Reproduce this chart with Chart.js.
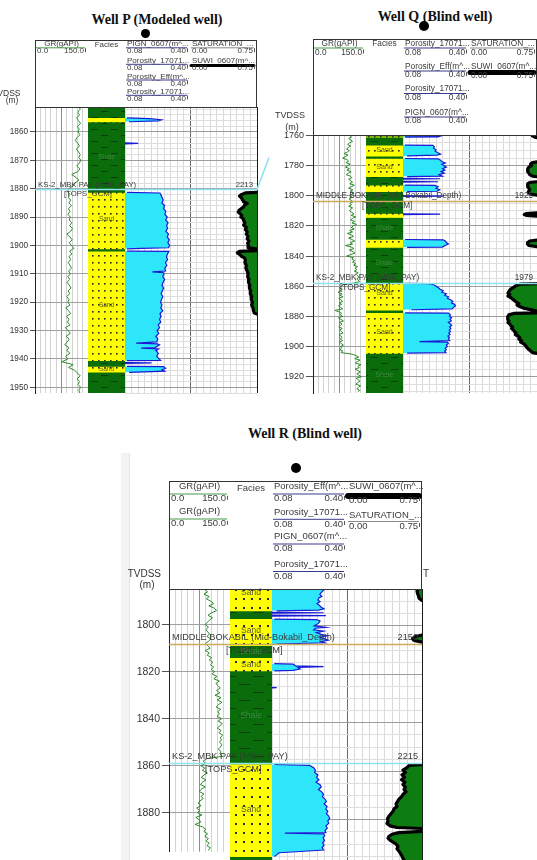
<!DOCTYPE html>
<html lang="en">
<head>
<meta charset="utf-8">
<title>Well log correlation – wells P, Q and R</title>
<script src="https://cdn.jsdelivr.net/npm/chart.js@4.4.1/dist/chart.umd.min.js"></script>
<style>
  html, body { margin:0; padding:0; background:#fff; }
  body { position:relative; width:537px; height:860px; overflow:hidden; }
  canvas { position:absolute; left:0; top:0; }
  .title { position:absolute; transform:translate(-50%,-50%); white-space:nowrap;
           font:bold 14px "Liberation Serif","Times New Roman",serif; color:#111; }
  .dot { position:absolute; border-radius:50%; background:#000; }
  .strip { position:absolute; left:121px; top:453px; width:8px; height:407px;
           background:#f3f3f3; border-right:1px solid #e2e2e2; }
</style>
</head>
<body>
<div class="strip"></div>
<div class="title" style="left:157px;top:20px">Well P (Modeled well)</div>
<div class="title" style="left:435px;top:17px">Well Q (Blind well)</div>
<div class="title" style="left:305px;top:434px">Well R (Blind well)</div>
<div class="dot" style="left:140.5px;top:28.5px;width:9px;height:9px"></div>
<div class="dot" style="left:418.5px;top:21px;width:10px;height:10px"></div>
<div class="dot" style="left:291px;top:462.5px;width:10px;height:10px"></div>
<script>
const W = 537, H = 860;
const FONT = '"Liberation Sans", Arial, Helvetica, sans-serif';
Chart.defaults.font.family = FONT;

// ================= Well P (modeled) =================
const pDepthTicks  = [1860, 1870, 1880, 1890, 1900, 1910, 1920, 1930, 1940, 1950];
const pDepthLabels = ['1860','1870','1880','1890','1900','1910','1920','1930','1940','1950'];
// gamma ray, 1 m samples starting at pGrTop
const pGrTop = 1851;
const pGr = [124,128,121,126,118,123,129,120,125,122,
             127,119,114,121,126,117,123,128,124,130,
             125,118,127,121,104,116,124,113,108,96,
             92,99,94,101,96,103,95,99,93,100,
             97,104,98,106,101,90,99,105,97,103,
             110,98,104,96,101,94,99,103,95,100,
             93,98,91,97,102,94,98,90,96,93,
             99,87,95,101,89,96,92,99,86,94,
             100,88,97,91,84,96,90,99,87,93,
             76,108,95,112,121,128,119,126,122,129,
             124,127];
// facies intervals: [top, base, facies]
const pFacies = [[1851.2,1855.0,'Shale'],[1855.0,1856.5,'Sand'],[1856.5,1881.3,'Shale'],
                 [1881.3,1901.2,'Sand'],[1901.2,1902.0,'Shale'],[1902.0,1940.6,'Sand'],
                 [1940.6,1942.6,'Shale'],[1942.6,1944.7,'Sand'],[1944.7,1952,'Shale']];
const pFaciesNames = [[1869,'Shale'],[1890.6,'Sand'],[1920.9,'Sand'],[1943.6,'Sand']];
// porosity [depth, v/v]; null breaks the curve
const pPorosity = [
 [1855.0,0.09],[1855.3,0.2],[1855.7,0.26],[1856.1,0.245],[1856.4,0.1],[1856.6,null],
 [1863.8,0.08],[1864.0,0.145],[1864.2,0.08],[1864.4,null],
 [1881.3,0.09],[1881.5,0.252],[1882,0.256],[1883,0.262],[1884,0.268],[1885,0.262],[1886,0.275],
 [1887,0.27],[1888,0.281],[1889,0.276],[1890,0.288],[1891,0.28],[1892,0.292],[1893,0.285],
 [1894,0.29],[1895,0.281],[1896,0.294],[1897,0.288],[1898,0.298],[1899,0.291],[1900,0.3],
 [1900.8,0.294],[1901.0,0.16],[1901.2,0.09],[1901.5,null],
 [1902.0,0.09],[1902.1,0.296],[1903,0.289],[1904,0.284],[1905,0.29],[1906,0.279],[1907,0.286],
 [1908,0.276],[1909,0.28],[1909.3,0.215],[1909.6,0.27],[1910,0.272],[1911,0.266],[1912,0.275],
 [1913,0.268],[1914,0.262],[1915,0.27],[1916,0.264],[1917,0.258],[1918,0.266],[1919,0.26],
 [1920,0.255],[1921,0.262],[1922,0.256],[1923,0.266],[1924,0.252],[1925,0.258],[1926,0.25],
 [1927,0.256],[1928,0.244],[1929,0.25],[1930,0.238],[1931,0.246],[1932,0.232],[1933,0.242],
 [1934,0.236],[1934.4,0.135],[1934.7,0.24],[1935,0.25],[1936,0.228],[1936.2,0.16],[1936.5,0.245],
 [1937,0.232],[1938,0.244],[1939,0.236],[1940,0.248],[1940.5,0.255],[1940.6,0.09],[1940.9,null],
 [1941.3,0.08],[1941.4,0.21],[1941.6,0.08],[1941.8,null],
 [1942.6,0.09],[1942.7,0.27],[1943.3,0.28],[1943.8,0.262],[1944.3,0.275],[1944.7,0.1]
];
// water saturation [depth, v/v]
const pSaturation = [
 [1881.3,0.75],[1881.5,0.62],[1882,0.58],[1882.6,0.555],[1883.2,0.575],[1884,0.59],[1884.6,0.6],
 [1885.2,0.64],[1885.8,0.61],[1886.4,0.6],[1887,0.575],[1887.6,0.55],[1888.2,0.54],[1888.8,0.56],
 [1889.4,0.58],[1890,0.57],[1890.6,0.595],[1891.2,0.6],[1892,0.615],[1892.8,0.6],[1893.6,0.63],
 [1894.4,0.62],[1895.2,0.64],[1896,0.63],[1896.8,0.65],[1897.6,0.64],[1898.4,0.66],[1899.2,0.645],
 [1900,0.655],[1900.8,0.65],[1901.2,0.75],[1901.8,0.75],[1902.1,0.55],[1902.6,0.53],[1903.2,0.56],
 [1903.8,0.575],[1904.4,0.61],[1905,0.62],[1906,0.615],[1907,0.63],[1908,0.625],[1909,0.64],
 [1910,0.65],[1911,0.645],[1912,0.66],[1913,0.655],[1914,0.67],[1915,0.665],[1916,0.68],
 [1917,0.675],[1918,0.69],[1919,0.685],[1920,0.7],[1921,0.69],[1922,0.705],[1923,0.71],
 [1923.8,0.72],[1924.2,0.75]
];
// formation tops: [depth, name, measured depth, kind]
const pTops = [[1880, 'KS-2_MBK PAY (MBK_PAY)', '2213', 'pay']];

// ================= Well Q (blind) =================
const qDepthTicks  = [1760, 1780, 1800, 1820, 1840, 1860, 1880, 1900, 1920];
const qDepthLabels = ['1760','1780','1800','1820','1840','1860','1880','1900','1920'];
const qGrTop = 1760;
const qGr = [104,109,101,107,112,103,98,106,100,95,103,
             97,88,99,92,84,96,101,93,105,98,92,
             103,96,108,100,94,106,110,101,107,
             112,104,117,108,101,113,106,115,109,104,
             111,102,108,114,104,109,101,112,107,103,110,
             116,108,121,112,106,118,110,123,114,108,117,
             104,112,97,109,115,101,110,118,105,112,92,
             108,116,103,113,119,107,95,114,110,118,112,
             121,115,126,119,124,117,128,122,126,131,124,
             129,132,112,86,
             80,74,83,77,71,82,76,85,73,79,84,75,81,72,78,84,62,
             74,81,77,84,72,79,86,75,82,78,73,83,76,80,85,74,79,82,77,84,75,80,86,78,
             81,76,84,79,110,
             122,129,118,133,125,120,136,127,131,119,128,134,124,130,137,122,128,133,126,121,135,129,124,132,127];
const qFacies = [[1759.7,1760.5,'Shale'],[1760.5,1761.2,'Sand'],[1761.2,1766.4,'Shale'],
                 [1766.4,1773.7,'Sand'],[1773.7,1775.3,'Shale'],[1775.3,1787.4,'Sand'],
                 [1787.4,1792.9,'Shale'],[1792.9,1797.3,'Sand'],[1797.3,1811.7,'Shale'],
                 [1811.7,1814.4,'Sand'],[1814.4,1829.0,'Shale'],[1829.0,1834.2,'Sand'],
                 [1834.2,1858.1,'Shale'],[1858.1,1875.8,'Sand'],[1875.8,1877.6,'Shale'],
                 [1877.6,1904.5,'Sand'],[1904.5,1930.8,'Shale']];
const qFaciesNames = [[1770,'Sand'],[1780.7,'Sand'],[1821.6,'Shale'],[1844.8,'Shale'],
                      [1864.7,'Sand'],[1890.2,'Sand'],[1918.9,'Shale']];
const qPorosity = [
 [1760.3,0.09],[1760.5,0.26],[1761.0,0.25],[1761.2,0.09],[1761.5,null],
 [1766.4,0.09],[1766.6,0.225],[1767.5,0.232],[1768.5,0.228],[1769.5,0.24],[1770.5,0.236],
 [1771.5,0.25],[1772.3,0.262],[1773,0.245],[1773.6,0.1],[1774,null],
 [1775.3,0.09],[1775.5,0.25],[1776.5,0.262],[1777.5,0.27],[1778.3,0.285],[1779,0.268],[1780,0.278],
 [1781,0.29],[1782,0.272],[1783,0.283],[1784,0.265],[1785,0.28],[1786,0.255],[1787,0.27],
 [1787.3,0.1],[1787.8,null],
 [1788.5,0.08],[1788.7,0.26],[1789,0.08],[1789.3,null],
 [1790.5,0.08],[1790.7,0.25],[1791,0.08],[1791.3,null],
 [1792.9,0.09],[1793.1,0.235],[1794,0.25],[1795,0.24],[1796,0.258],[1797,0.245],[1797.3,0.1],[1797.6,null],
 [1800,0.08],[1800.2,0.275],[1800.5,0.08],[1800.8,null],
 [1812,0.08],[1812.2,0.26],[1812.5,0.08],[1812.8,null],
 [1829,0.09],[1829.2,0.275],[1830,0.285],[1831,0.29],[1832,0.3],[1833,0.285],[1834,0.27],[1834.2,0.1],[1834.5,null],
 [1858.1,0.09],[1858.3,0.2],[1859,0.23],[1860,0.24],[1861,0.252],[1862,0.26],[1863,0.275],[1864,0.268],
 [1865,0.29],[1866,0.282],[1867,0.3],[1868,0.295],[1869,0.31],[1870,0.322],[1871,0.315],[1872,0.33],
 [1873,0.335],[1874,0.325],[1875,0.318],[1875.6,0.12],[1876,null],
 [1877.6,0.09],[1877.8,0.3],[1879,0.31],[1880,0.305],[1881,0.316],[1882,0.308],[1883,0.314],[1884,0.3],
 [1885,0.31],[1886,0.316],[1887,0.306],[1888,0.312],[1889,0.304],[1890,0.31],[1891,0.302],[1892,0.308],
 [1893,0.298],[1894,0.305],[1895,0.3],[1896,0.306],[1896.7,0.16],[1897,0.296],[1898,0.3],[1899,0.29],
 [1900,0.295],[1901,0.285],[1902,0.29],[1903,0.282],[1904,0.288],[1904.4,0.1]
];
const qSaturation = [
 [1759.8,0.75],[1760.3,0.7],[1761,0.72],[1761.5,0.75],[1762,null],
 [1777.5,0.75],[1778,0.7],[1779,0.68],[1780,0.69],[1781,0.66],[1782,0.65],[1783,0.645],[1784,0.65],
 [1785,0.66],[1786,0.67],[1787,0.7],[1787.4,0.75],[1788,null],
 [1790.7,0.75],[1791.2,0.67],[1792,0.65],[1793,0.645],[1794,0.65],[1795,0.66],[1796,0.67],[1797,0.66],
 [1798,0.655],[1799,0.68],[1799.6,0.75],[1800,null],
 [1811.3,0.75],[1811.8,0.63],[1812.5,0.61],[1813,0.63],[1813.5,0.75],[1814,null],
 [1829.4,0.75],[1830,0.67],[1831,0.65],[1832,0.645],[1833,0.66],[1833.8,0.75],[1834.2,null],
 [1858.3,0.75],[1858.6,0.56],[1859.5,0.52],[1860.5,0.5],[1861.5,0.47],[1862.5,0.45],[1863.5,0.44],
 [1864.5,0.43],[1865.5,0.45],[1866.5,0.43],[1867.5,0.46],[1868.5,0.48],[1869.5,0.5],[1870.5,0.52],
 [1871.5,0.55],[1872.5,0.53],[1873.5,0.56],[1874.5,0.6],[1875.5,0.68],[1876.5,0.75],[1877.6,0.75],
 [1878,0.5],[1879,0.44],[1880,0.43],[1881,0.425],[1882,0.43],[1883,0.44],[1884,0.43],[1885,0.45],
 [1886,0.46],[1887,0.48],[1888,0.47],[1889,0.49],[1890,0.5],[1891,0.52],[1892,0.51],[1893,0.54],
 [1894,0.56],[1895,0.55],[1896,0.58],[1897,0.57],[1898,0.6],[1899,0.62],[1900,0.63],[1901,0.645],
 [1902,0.66],[1903,0.68],[1904,0.7],[1904.5,0.75]
];
const qTops = [[1803.3, 'MIDDLE BOKABIL (Mid-Bokabil_Depth)', '1925', 'mid'],
               [1857.7, 'KS-2_MBK PAY (MBK_PAY)', '1979', 'pay']];

// ================= Well R (blind) =================
const rDepthTicks  = [1800, 1820, 1840, 1860, 1880];
const rDepthLabels = ['1800','1820','1840','1860','1880'];
const rGrTop = 1785;
const rGr = [88,95,86,99,92,
             103,110,98,112,117,
             104,96,107,100,94,
             89,97,91,95,
             100,93,103,97,90,
             96,101,89,99,94,
             105,99,108,102,110,104,
             112,106,118,110,124,115,121,126,
             117,125,113,128,119,130,122,116,127,120,
             124,118,129,121,131,125,119,128,123,132,126,129,
             124,130,127,121,128,125,131,
             93,84,90,78,88,82,94,86,79,91,
             83,77,89,80,74,86,79,84,76,
             72,79,68,75,70,81,66,74,78,64,
             82,90,86,95,88,97,91,99,93,102,96];
const rFacies = [[1784.8,1793.8,'Sand'],[1793.8,1797.0,'Shale'],[1797.0,1808.2,'Sand'],
                 [1808.2,1813.1,'Shale'],[1813.1,1818.6,'Sand'],[1818.6,1857.0,'Shale'],
                 [1857.0,1895.2,'Sand'],[1895.2,1896.6,'Shale']];
const rFaciesNames = [[1786.5,'Sand'],[1802,'Sand'],[1810.5,'Shale'],[1816,'Sand'],
                      [1837.2,'Shale'],[1875.9,'Sand']];
const rPorosity = [
 [1784.8,0.305],[1785.5,0.298],[1786.3,0.29],[1787,0.284],[1787.8,0.293],[1788.5,0.28],[1789.3,0.276],
 [1790,0.285],[1790.8,0.272],[1791.6,0.283],[1792.3,0.29],[1793,0.302],[1793.5,0.28],[1793.8,0.1],[1794.1,null],
 [1794.4,0.08],[1794.6,0.3],[1794.8,0.08],[1795.1,null],
 [1795.6,0.08],[1795.8,0.31],[1796,0.08],[1796.3,null],
 [1797.2,0.09],[1797.4,0.27],[1798,0.285],[1799,0.278],[1800,0.26],[1800.6,0.31],[1801,0.265],
 [1801.6,0.258],[1802.2,0.3],[1802.8,0.27],[1803.5,0.29],[1804.1,0.316],[1804.7,0.285],[1805.3,0.3],
 [1805.9,0.32],[1806.5,0.29],[1807,0.305],[1807.5,0.1],[1807.8,null],
 [1815.6,0.09],[1815.8,0.17],[1816.5,0.18],[1816.8,0.3],[1817.1,0.19],[1817.8,0.2],[1818.4,0.17],
 [1818.6,0.09],[1818.9,null],
 [1825.4,0.08],[1825.5,0.1],[1825.6,0.08],[1825.9,null],
 [1857.2,0.09],[1857.6,0.24],[1858.5,0.258],[1859.5,0.265],[1860.5,0.262],[1861.5,0.276],[1862.5,0.27],
 [1863.5,0.28],[1864.5,0.268],[1865.5,0.285],[1866.5,0.29],[1867.5,0.278],[1868.5,0.292],[1869.5,0.3],
 [1870.5,0.295],[1871.5,0.306],[1872.5,0.312],[1873.5,0.302],[1874.5,0.315],[1875.5,0.31],
 [1876.5,0.318],[1877.5,0.312],[1878.5,0.322],[1879.5,0.326],[1880.5,0.318],[1881.5,0.322],
 [1882.5,0.31],[1883.5,0.316],[1884.5,0.306],[1885.3,0.31],[1885.5,0.135],[1885.8,0.3],[1886.5,0.305],
 [1887.5,0.298],[1888.5,0.304],[1889.5,0.296],[1890.5,0.302],[1891.5,0.294],[1892.5,0.3],[1893.1,0.2],
 [1893.6,0.11],[1894.5,0.1],[1895.2,0.09]
];
const rSaturation = [
 [1784.8,0.71],[1785.6,0.70],[1786.6,0.705],[1787.6,0.715],[1788.6,0.72],[1789.5,0.75],[1790,null],
 [1803.8,0.75],[1804.5,0.68],[1805.3,0.655],[1806,0.67],[1806.7,0.75],[1807,null],
 [1857.2,0.75],[1857.6,0.62],[1858.5,0.6],[1859.5,0.56],[1860.5,0.585],[1861.5,0.55],[1862.5,0.575],
 [1863.5,0.545],[1864.5,0.58],[1865.5,0.56],[1866.5,0.585],[1867.5,0.57],[1868.5,0.59],[1869.5,0.56],
 [1870.5,0.545],[1871.5,0.52],[1872.5,0.505],[1873.5,0.49],[1874.5,0.5],[1875.5,0.47],[1876.5,0.46],
 [1877.5,0.44],[1878.5,0.42],[1879.5,0.405],[1880.5,0.41],[1881.5,0.4],[1882.5,0.43],[1883.2,0.5],
 [1883.6,0.75],[1884.8,0.75],[1885.3,0.52],[1886,0.45],[1886.8,0.42],[1887.6,0.41],[1888.4,0.43],
 [1889.2,0.46],[1890,0.49],[1891,0.51],[1892,0.5],[1893,0.52],[1894,0.535],[1895,0.55],[1896,0.56],
 [1896.6,0.57]
];
const rTops = [[1807.6, 'MIDDLE BOKABIL (Mid-Bokabil_Depth)', '2150', 'mid'],
               [1856.5, 'KS-2_MBK PAY (MBK_PAY)', '2215', 'pay']];

// ================= panel layouts =================
const por = (n, y, ly, sy) => ({ t:'por', n, y, ly, sy, lo:'0.08', hi:'0.40', c:'#3b3b8c', w:1 });

const wells = [
 { tracks:{ gr:[35,88], fac:[88,125], por:[125,190], sat:[190,257] }, axisW:35,
   head:[40,107], area:[107,393], depth:[1851.2,1952], minor:2,
   ticks:pDepthTicks, labels:pDepthLabels, grTop:pGrTop, gr:pGr, facies:pFacies, faciesNames:pFaciesNames,
   por:pPorosity, sat:pSaturation, tops:pTops,
   headFont:8, topFont:7.8, axisFont:8.2, facFont:6.5, tickLen:5,
   dot:[6,7,1.6], dash:[10,6], nameDy:-4.5, tagDy:4, tagX:{ pay:29 }, payLink:[12,-32],
   axisTitle:{ tx:20.5, ty:94, mx:12, my:100.5, size:8.5 }, extra:[],
   header:[
     { t:'gr', n:'GR(gAPI)', y:44, ly:47.8, sy:51.2, lo:'0.0', hi:'150.0', c:'#4a9a4a', w:1 },
     { t:'fac', n:'Facies', y:44.5 },
     por('PIGN_0607(m^...', 44, 47.8, 51.2), por('Porosity_17071...', 61, 64.3, 67.5),
     por('Porosity_Eff(m^...', 77, 80, 83.3), por('Porosity_17071...', 92, 95.3, 98.5),
     { t:'sat', n:'SATURATION_...', y:44, ly:47.8, sy:51.2, lo:'0.00', hi:'0.75', c:'#8a8a8a', w:1 },
     { t:'sat', n:'SUWI_0607(m^...', y:61, ly:65.5, sy:67.8, lo:'0.00', hi:'0.75', c:'#000', w:3 }
   ] },
 { tracks:{ gr:[313,366], fac:[366,403], por:[403,469], sat:[469,537] }, axisW:45,
   head:[39,135], area:[135,393], depth:[1759.7,1930.8], minor:5,
   ticks:qDepthTicks, labels:qDepthLabels, grTop:qGrTop, gr:qGr, facies:qFacies, faciesNames:qFaciesNames,
   por:qPorosity, sat:qSaturation, tops:qTops,
   headFont:8.3, topFont:8.2, axisFont:9, facFont:7, tickLen:7,
   dot:[6,7,1.6], dash:[10,6], nameDy:-6, tagDy:4.5, tagX:{ mid:49, pay:27 }, payLink:null,
   axisTitle:{ tx:305, ty:116, mx:292, my:128, size:9 }, extra:[],
   header:[
     { t:'gr', n:'GR(gAPI)', y:43.5, ly:48, sy:52.5, lo:'0.0', hi:'150.0', c:'#4a9a4a', w:1 },
     { t:'fac', n:'Facies', y:44 },
     por('Porosity_17071...', 43.5, 48, 52.5), por('Porosity_Eff(m^...', 66.5, 71, 75.2),
     por('Porosity_17071...', 89, 93.5, 97.8), por('PIGN_0607(m^...', 112.5, 117, 121.2),
     { t:'sat', n:'SATURATION_...', y:43.5, ly:48, sy:52.5, lo:'0.00', hi:'0.75', c:'#8a8a8a', w:1 },
     { t:'sat', n:'SUWI_0607(m^...', y:66.5, ly:72.5, sy:75.8, lo:'0.00', hi:'0.75', c:'#000', w:5 }
   ] },
 { tracks:{ gr:[169,230], fac:[230,272], por:[272,347], sat:[347,422] }, axisW:45,
   head:[481,589], area:[589,860], depth:[1784.8,1896.6], minor:5,
   ticks:rDepthTicks, labels:rDepthLabels, grTop:rGrTop, gr:rGr, facies:rFacies, faciesNames:rFaciesNames,
   por:rPorosity, sat:rSaturation, tops:rTops,
   headFont:9.5, topFont:9.2, axisFont:10.5, facFont:8.5, tickLen:7,
   dot:[8,9,2], dash:[14,8], nameDy:-7, tagDy:5.5, tagX:{ mid:57, pay:36 }, payLink:null,
   axisTitle:{ tx:161, ty:574, mx:147, my:585.5, size:10 }, extra:[['T', 423, 574]],
   header:[
     { t:'gr', n:'GR(gAPI)', y:486.7, ly:494, sy:498.8, lo:'0.0', hi:'150.0', c:'#4a9a4a', w:1 },
     { t:'gr', n:'GR(gAPI)', y:511.7, ly:519, sy:523.8, lo:'0.0', hi:'150.0', c:'#4a9a4a', w:1 },
     { t:'fac', n:'Facies', y:488.5 },
     por('Porosity_Eff(m^...', 486.7, 494, 498.8), por('Porosity_17071...', 512, 519.3, 524),
     por('PIGN_0607(m^...', 536.7, 544, 548.5), por('Porosity_17071...', 564, 571.5, 576.5),
     { t:'sat', n:'SUWI_0607(m^...', y:486.7, ly:496, sy:500, lo:'0.00', hi:'0.75', c:'#000', w:6 },
     { t:'sat', n:'SATURATION_...', y:515.5, ly:521.5, sy:526, lo:'0.00', hi:'0.75', c:'#8a8a8a', w:1 }
   ] }
];

// ================= helpers =================
function newCtx() {
  const c = document.createElement('canvas');
  c.width = W; c.height = H;
  c.style.width = W + 'px'; c.style.height = H + 'px';
  document.body.appendChild(c);
  return c.getContext('2d');
}
const toPoints = pairs => pairs.map(p => ({ y: p[0], x: p[1] }));
const grPoints = (top, vals) => vals.map((v, i) => ({ y: top + i, x: v }));

function sandPattern(ctx, sx, sy, r) {
  const c = document.createElement('canvas'); c.width = sx; c.height = sy;
  const g = c.getContext('2d');
  g.fillStyle = '#ffff00'; g.fillRect(0, 0, sx, sy);
  g.fillStyle = '#2a2a2a'; g.fillRect(Math.round(sx / 2 - r / 2), Math.round(sy / 2 - r / 2), r, r);
  return ctx.createPattern(c, 'repeat');
}
function shalePattern(ctx, len, gap) {
  const c = document.createElement('canvas'); c.width = len * 2; c.height = gap * 2;
  const g = c.getContext('2d');
  g.fillStyle = '#0b6c0b'; g.fillRect(0, 0, len * 2, gap * 2);
  g.fillStyle = '#094009';
  g.fillRect(1, Math.round(gap / 2), len - 3, 1);
  g.fillRect(len + 1, Math.round(gap * 1.5), len - 3, 1);
  return ctx.createPattern(c, 'repeat');
}

function drawHeader(ctx, w) {
  const T = w.tracks;
  ctx.save();
  ctx.strokeStyle = '#333'; ctx.lineWidth = 1;
  ctx.strokeRect(T.gr[0] + 0.5, w.head[0] + 0.5, T.sat[1] - T.gr[0] - 1, w.head[1] - w.head[0]);
  ctx.font = w.headFont + 'px ' + FONT;
  ctx.textBaseline = 'middle';
  w.header.forEach(h => {
    const [a, b] = T[h.t];
    ctx.fillStyle = '#3a3a3a';
    if (h.t === 'fac' || h.t === 'gr') { ctx.textAlign = 'center'; ctx.fillText(h.n, (a + b) / 2, h.y); }
    else { ctx.textAlign = 'left'; ctx.fillText(h.n, a + 2, h.y); }
    if (h.ly === undefined) return;
    ctx.strokeStyle = h.c; ctx.lineWidth = h.w; ctx.lineCap = h.w > 2 ? 'round' : 'butt';
    ctx.beginPath(); ctx.moveTo(a + 1, h.ly); ctx.lineTo(b - 3, h.ly); ctx.stroke();
    ctx.lineWidth = 1; ctx.strokeStyle = '#555'; ctx.lineCap = 'butt';
    ctx.beginPath(); ctx.moveTo(b - 2.5, h.sy - 3); ctx.lineTo(b - 2.5, h.sy + 1); ctx.stroke();
    ctx.fillStyle = '#3a3a3a';
    ctx.textAlign = 'left'; ctx.fillText(h.lo, a + 2, h.sy);
    ctx.textAlign = 'right'; ctx.fillText(h.hi, b - 4, h.sy);
  });
  const at = w.axisTitle;
  ctx.font = at.size + 'px ' + FONT; ctx.fillStyle = '#333';
  ctx.textAlign = 'right'; ctx.fillText('TVDSS', at.tx, at.ty);
  ctx.textAlign = 'center'; ctx.fillText('(m)', at.mx, at.my);
  ctx.textAlign = 'left';
  w.extra.forEach(([s, x, y]) => ctx.fillText(s, x, y));
  ctx.restore();
}

function drawTops(chart, w) {
  const ctx = chart.ctx, ys = chart.scales.y;
  const x0 = w.tracks.gr[0], x1 = w.tracks.sat[1];
  ctx.save();
  w.tops.forEach(([depth, name, md, kind]) => {
    const py = Math.round(ys.getPixelForValue(depth)) + 0.5;
    ctx.strokeStyle = kind === 'pay' ? '#8ee4ee' : '#cdaa5c';
    ctx.lineWidth = 1.6;
    ctx.beginPath(); ctx.moveTo(x0, py); ctx.lineTo(x1, py);
    if (kind === 'pay' && w.payLink) ctx.lineTo(x1 + w.payLink[0], py + w.payLink[1]);
    ctx.stroke();
    ctx.fillStyle = '#3a3a3a';
    ctx.font = w.topFont + 'px ' + FONT;
    ctx.textBaseline = 'middle';
    ctx.textAlign = 'left';
    ctx.fillText(name, x0 + 3, py + w.nameDy);
    ctx.fillText('[TOPS_GCM]', x0 + w.tagX[kind], py + w.tagDy);
    ctx.textAlign = 'right';
    ctx.fillText(md, x1 - 4, py + w.nameDy);
  });
  ctx.restore();
}

// ================= one set of track charts per well =================
function buildWell(w) {
  const T = w.tracks;
  const pad = tr => ({ left: tr[0], right: W - tr[1], top: w.area[0], bottom: H - w.area[1] });
  const base = { responsive:false, animation:false, devicePixelRatio:1, events:[],
                 plugins:{ legend:{ display:false }, tooltip:{ enabled:false } } };
  const minorTicks = [];
  for (let d = Math.ceil(w.depth[0] / w.minor) * w.minor; d <= w.depth[1]; d += w.minor) minorTicks.push(d);
  const isMajor = v => w.ticks.some(t => Math.abs(t - v) < 1e-6);
  const depthGrid = () => ({
    type:'linear', reverse:true, min:w.depth[0], max:w.depth[1], position:'left',
    afterFit: s => { s.width = 0; },
    afterBuildTicks: s => { s.ticks = minorTicks.map(v => ({ value: v })); },
    ticks:{ display:false },
    grid:{ drawTicks:false, color: c => isMajor(c.tick.value) ? '#9c9c9c' : '#dedede' },
    border:{ display:false }
  });
  const valueGrid = (min, max, n, colour) => ({
    type:'linear', position:'top', min, max,
    afterFit: s => { s.height = 0; },
    afterBuildTicks: s => { s.ticks = Array.from({ length: n + 1 }, (_, i) => ({ value: min + (max - min) * i / n })); },
    ticks:{ display:false },
    grid:{ drawTicks:false, color: c => colour(c.index) },
    border:{ display:false }
  });

  // gamma ray track with the depth axis on its left
  const grPad = pad(T.gr);
  grPad.left = T.gr[0] - w.axisW;
  new Chart(newCtx(), {
    type:'line',
    data:{ datasets:[{ data: grPoints(w.grTop, w.gr), borderColor:'#2b8a2b', borderWidth:1,
                       pointRadius:0, fill:false, tension:0 }] },
    options:{ ...base, indexAxis:'y', layout:{ padding: grPad },
      scales:{
        x: valueGrid(0, 150, 10, i => i === 5 ? '#8c8c8c' : '#d2d2d2'),
        y: { type:'linear', reverse:true, min:w.depth[0], max:w.depth[1], position:'left',
             afterFit: s => { s.width = w.axisW; },
             afterBuildTicks: s => { s.ticks = w.ticks.map(v => ({ value: v })); },
             ticks:{ autoSkip:false, padding:2, color:'#333', font:{ family:FONT, size:w.axisFont },
                     callback: (v, i) => w.labels[i] },
             grid:{ color:'#a0a0a0', tickLength:w.tickLen, tickColor:'#555' },
             border:{ display:true, color:'#222', width:1 } }
      } }
  });

  // facies column
  const fctx = newCtx();
  const sand = sandPattern(fctx, ...w.dot);
  const shale = shalePattern(fctx, ...w.dash);
  new Chart(fctx, {
    type:'bar',
    data:{ labels:['Facies'],
           datasets: w.facies.map(f => ({ data:[[f[0], f[1]]], backgroundColor: f[2] === 'Sand' ? sand : shale,
                                          borderWidth:0, grouped:false, barPercentage:1, categoryPercentage:1 })) },
    options:{ ...base, layout:{ padding: pad(T.fac) },
      scales:{ x:{ type:'category', display:false },
               y:{ type:'linear', reverse:true, min:w.depth[0], max:w.depth[1], display:false } } },
    plugins:[{ id:'faciesNames', afterDatasetsDraw(chart) {
      const { ctx, chartArea:a, scales:{ y } } = chart;
      ctx.save();
      ctx.font = w.facFont + 'px ' + FONT; ctx.textAlign = 'center'; ctx.textBaseline = 'middle';
      w.faciesNames.forEach(([d, s]) => {
        ctx.fillStyle = s === 'Sand' ? '#5a5a30' : '#3f8a3f';
        ctx.fillText(s, (a.left + a.right) / 2, y.getPixelForValue(d));
      });
      ctx.restore();
    } }]
  });

  // porosity track
  new Chart(newCtx(), {
    type:'line',
    data:{ datasets:[{ data: toPoints(w.por), borderColor:'#1a1ad4', borderWidth:1.2, backgroundColor:'#2ee6fa',
                       fill:'origin', pointRadius:0, tension:0 }] },
    options:{ ...base, indexAxis:'y', layout:{ padding: pad(T.por) },
      scales:{ x: valueGrid(0.08, 0.40, 10, () => '#dadada'), y: depthGrid() } }
  });

  // saturation track, plus header and formation tops drawn over the whole panel
  new Chart(newCtx(), {
    type:'line',
    data:{ datasets:[{ data: toPoints(w.sat), borderColor:'#000', borderWidth:3.2, backgroundColor:'#0d7d12',
                       fill:{ value:0.75 }, pointRadius:0, tension:0, borderJoinStyle:'round', borderCapStyle:'round' }] },
    options:{ ...base, indexAxis:'y', layout:{ padding: pad(T.sat) },
      scales:{ x: valueGrid(0, 0.75, 10, i => i === 0 ? '#6a6a6a' : (i === 10 ? '#1a1a1a' : '#dadada')),
               y: depthGrid() } },
    plugins:[{ id:'panelFrame', afterDraw(chart) { drawHeader(chart.ctx, w); drawTops(chart, w); } }]
  });
}

wells.forEach(buildWell);
</script>
</body>
</html>
